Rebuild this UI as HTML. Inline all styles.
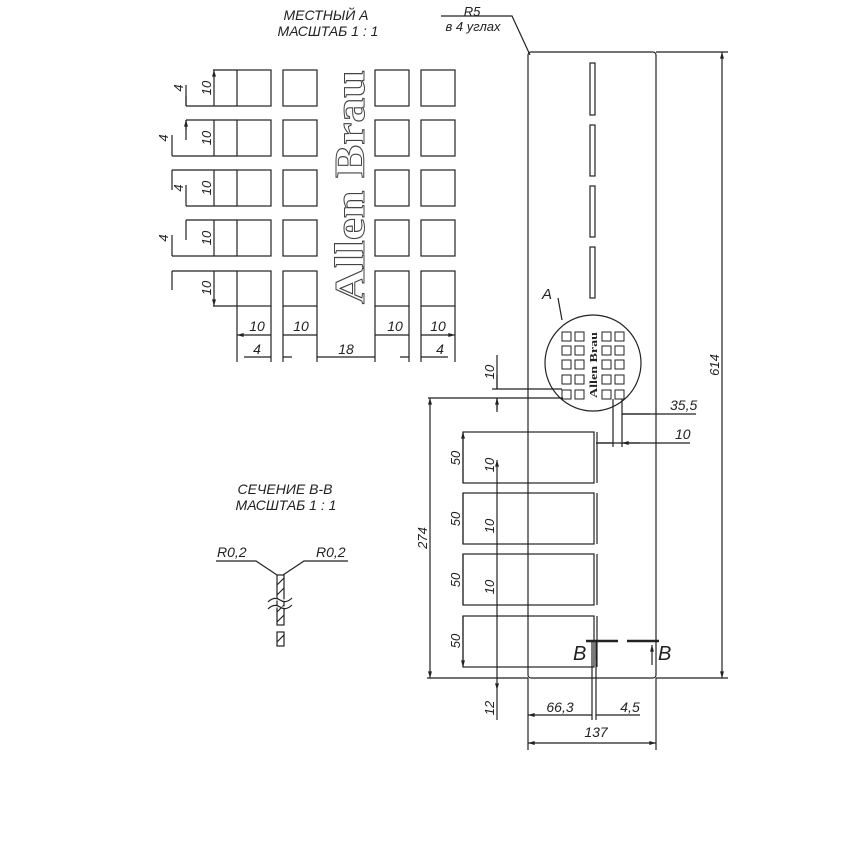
<!DOCTYPE html>
<html><head><meta charset="utf-8"><style>
html,body{margin:0;padding:0;background:#fff}
svg{display:block}
text{font-family:"Liberation Sans",sans-serif;font-style:italic;fill:#222}
text.serif{font-family:"Liberation Serif",serif;font-style:normal;font-weight:bold}
</style></head><body>
<svg width="866" height="866" viewBox="0 0 866 866" xmlns="http://www.w3.org/2000/svg">
<defs>
<marker id="a" viewBox="0 0 10 6" refX="10" refY="3" markerWidth="8" markerHeight="4" orient="auto-start-reverse" markerUnits="userSpaceOnUse"><path d="M0,0 L10,3 L0,6z" fill="#222"/></marker>
</defs>
<g stroke="#222" stroke-width="1.2" fill="none">
<g>
<rect x="237" y="70" width="34" height="36"/><rect x="283" y="70" width="34" height="36"/><rect x="375" y="70" width="34" height="36"/><rect x="421" y="70" width="34" height="36"/>
<rect x="237" y="120" width="34" height="36"/><rect x="283" y="120" width="34" height="36"/><rect x="375" y="120" width="34" height="36"/><rect x="421" y="120" width="34" height="36"/>
<rect x="237" y="170" width="34" height="36"/><rect x="283" y="170" width="34" height="36"/><rect x="375" y="170" width="34" height="36"/><rect x="421" y="170" width="34" height="36"/>
<rect x="237" y="220" width="34" height="36"/><rect x="283" y="220" width="34" height="36"/><rect x="375" y="220" width="34" height="36"/><rect x="421" y="220" width="34" height="36"/>
<rect x="237" y="271" width="34" height="35"/><rect x="283" y="271" width="34" height="35"/><rect x="375" y="271" width="34" height="35"/><rect x="421" y="271" width="34" height="35"/>
</g>
<path d="M213 70H237M186 106H237M186 120H237M172 156H237M172 170H237M186 206H237M186 220H237M172 256H237M172 271H237M213 306H237"/>
<path d="M214 70V106M214 120V156M214 170V206M214 220V256M214 271V306" marker-start="url(#a)" marker-end="url(#a)"/>
<path d="M186 85V106M186 120V140M172 135V156M172 170V190M186 185V206M186 220V240M172 235V256M172 271V290" />
<path d="M186 96V106M186 130V120" marker-end="url(#a)"/>
<path d="M237 306V362M271 306V362M283 306V362M317 306V362M375 306V362M409 306V362M421 306V362M455 306V362"/>
<path d="M237 335H271M283 335H317M375 335H409M421 335H455" marker-start="url(#a)" marker-end="url(#a)"/>
<path d="M244 357H271M283 357H292M317 357H375M400 357H409M421 357H448"/>
<rect x="528" y="52" width="128" height="626" rx="3"/>
<path d="M656 52H728M656 678H728M427 678H528"/>
<path d="M722 52V678" marker-start="url(#a)" marker-end="url(#a)"/>
<path d="M441 16H512L530 55" />
<rect x="590" y="63" width="5" height="52"/><rect x="590" y="125" width="5" height="51"/><rect x="590" y="186" width="5" height="51"/><rect x="590" y="247" width="5" height="51"/>
<circle cx="593" cy="363" r="48" fill="#fff"/>
<path d="M558 298L562 320"/>
<g stroke-width="1">
<rect x="562" y="332" width="9" height="9"/><rect x="575" y="332" width="9" height="9"/><rect x="602" y="332" width="9" height="9"/><rect x="615" y="332" width="9" height="9"/>
<rect x="562" y="346" width="9" height="9"/><rect x="575" y="346" width="9" height="9"/><rect x="602" y="346" width="9" height="9"/><rect x="615" y="346" width="9" height="9"/>
<rect x="562" y="360" width="9" height="9"/><rect x="575" y="360" width="9" height="9"/><rect x="602" y="360" width="9" height="9"/><rect x="615" y="360" width="9" height="9"/>
<rect x="562" y="375" width="9" height="9"/><rect x="575" y="375" width="9" height="9"/><rect x="602" y="375" width="9" height="9"/><rect x="615" y="375" width="9" height="9"/>
<rect x="562" y="390" width="9" height="9"/><rect x="575" y="390" width="9" height="9"/><rect x="602" y="390" width="9" height="9"/><rect x="615" y="390" width="9" height="9"/>
</g>
<path d="M492 389H562M428 398H563"/>
<path d="M497 355V389M497 398V410" />
<path d="M497 375V389M497 412V398" marker-end="url(#a)"/>
<path d="M613 399V447M622 399V447"/>
<path d="M622 414H696M598 443H690"/>
<path d="M650 414H622M596 443H613M640 443H622" marker-end="url(#a)"/>
<path d="M430 398V678" marker-start="url(#a)" marker-end="url(#a)"/>
<rect x="463" y="432" width="131" height="51"/><rect x="463" y="493" width="131" height="51"/><rect x="463" y="554" width="131" height="51"/><rect x="463" y="616" width="131" height="51"/>
<path d="M597 432V483M597 493V544M597 554V605M597 616V667"/>
<path d="M463 432V483M463 493V544M463 554V605M463 616V667" marker-start="url(#a)" marker-end="url(#a)"/>
<path d="M497 460V690" marker-start="url(#a)" marker-end="url(#a)"/>
<path d="M497 690V720"/>
<path d="M586 641H618M627 641H659" stroke-width="2.4"/>
<path d="M596 660V643M652 665V645" marker-end="url(#a)"/>
<path d="M592 640V720M596 640V720M528 678V750M656 678V750"/>
<path d="M528 715H592M596 715H640" marker-start="url(#a)"/>
<path d="M528 743H656" marker-start="url(#a)" marker-end="url(#a)"/>
<path d="M216 561H256L277 575M348 561H304L283 575"/>
<rect x="277" y="575" width="7" height="50"/>
<path d="M277 585L284 578M277 595L284 588M277 612L284 605M277 622L284 615"/>
<path d="M268 602Q274 596 280 600T292 598M268 609Q274 603 280 607T292 605" fill="#fff"/>
<rect x="277" y="632" width="7" height="14"/><path d="M277 642L284 635"/>
</g>
<text class="serif" transform="translate(364 304) rotate(-90)" font-size="42" textLength="234" lengthAdjust="spacingAndGlyphs" style="fill:none;stroke:#444;stroke-width:1">Allen Brau</text>
<text class="serif" transform="translate(597 398) rotate(-90)" font-size="10" textLength="66" lengthAdjust="spacingAndGlyphs">Allen Brau</text>
<g font-size="14">
<text x="326" y="20" text-anchor="middle">МЕСТНЫЙ А</text>
<text x="328" y="36" text-anchor="middle">МАСШТАБ 1 : 1</text>
<text x="472" y="16" font-size="13" text-anchor="middle">R5</text>
<text x="473" y="31" font-size="13" text-anchor="middle">в 4 углах</text>
<text x="285" y="494" text-anchor="middle">СЕЧЕНИЕ В-В</text>
<text x="286" y="510" text-anchor="middle">МАСШТАБ 1 : 1</text>
<text x="217" y="557">R0,2</text>
<text x="316" y="557">R0,2</text>
<text x="542" y="299" font-size="15">A</text>
<text x="257" y="331" text-anchor="middle">10</text><text x="301" y="331" text-anchor="middle">10</text><text x="395" y="331" text-anchor="middle">10</text><text x="438" y="331" text-anchor="middle">10</text>
<text x="257" y="354" text-anchor="middle">4</text><text x="346" y="354" text-anchor="middle">18</text><text x="440" y="354" text-anchor="middle">4</text>
<text x="670" y="410">35,5</text><text x="675" y="439">10</text>
<text x="560" y="712" text-anchor="middle">66,3</text><text x="630" y="712" text-anchor="middle">4,5</text>
<text x="596" y="737" text-anchor="middle">137</text>
<text x="573" y="660" font-size="20">B</text><text x="658" y="660" font-size="20">B</text>
</g>
<g font-size="13">
<text transform="translate(211 88) rotate(-90)" text-anchor="middle">10</text>
<text transform="translate(211 138) rotate(-90)" text-anchor="middle">10</text>
<text transform="translate(211 188) rotate(-90)" text-anchor="middle">10</text>
<text transform="translate(211 238) rotate(-90)" text-anchor="middle">10</text>
<text transform="translate(211 288) rotate(-90)" text-anchor="middle">10</text>
<text transform="translate(183 88) rotate(-90)" text-anchor="middle">4</text>
<text transform="translate(168 138) rotate(-90)" text-anchor="middle">4</text>
<text transform="translate(183 188) rotate(-90)" text-anchor="middle">4</text>
<text transform="translate(168 238) rotate(-90)" text-anchor="middle">4</text>
<text transform="translate(494 372) rotate(-90)" text-anchor="middle">10</text>
<text transform="translate(494 465) rotate(-90)" text-anchor="middle">10</text>
<text transform="translate(494 526) rotate(-90)" text-anchor="middle">10</text>
<text transform="translate(494 587) rotate(-90)" text-anchor="middle">10</text>
<text transform="translate(494 708) rotate(-90)" text-anchor="middle">12</text>
<text transform="translate(460 458) rotate(-90)" text-anchor="middle">50</text>
<text transform="translate(460 519) rotate(-90)" text-anchor="middle">50</text>
<text transform="translate(460 580) rotate(-90)" text-anchor="middle">50</text>
<text transform="translate(460 641) rotate(-90)" text-anchor="middle">50</text>
<text transform="translate(427 538) rotate(-90)" text-anchor="middle">274</text>
<text transform="translate(719 365) rotate(-90)" text-anchor="middle">614</text>
</g>
</svg>
</body></html>
